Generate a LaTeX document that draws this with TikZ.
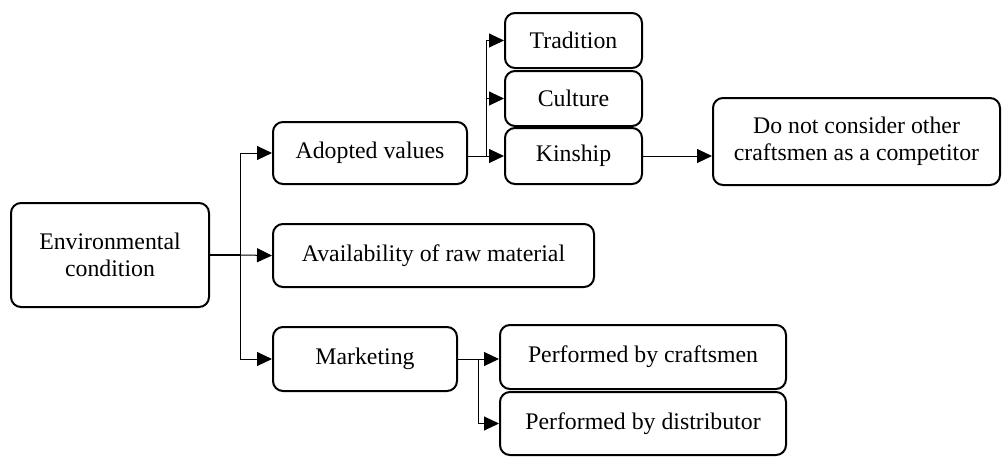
\documentclass[tikz,border=0pt]{standalone}
\usepackage{fontspec}
\setmainfont{Liberation Serif}
\usetikzlibrary{arrows.meta}

\tikzset{
  box/.style={draw,line width=1pt,rounded corners=5pt,align=center,inner sep=2pt},
  link/.style={line width=0.5pt,-{Triangle[length=7.5pt,width=7pt]}},
}

\begin{document}
\begin{tikzpicture}[x=0.5pt,y=-0.5pt,font=\fontsize{11.9}{13.6}\selectfont]
\useasboundingbox (0,0) rectangle (1002,456);
% left side
\node[box,minimum width=99pt,minimum height=52pt](env) at (110,255){Environmental\\condition};
\node[box,minimum width=97pt,minimum height=31pt](adopted) at (370,153){Adopted values};
\node[box,minimum width=160.5pt,minimum height=31.5pt](avail) at (433.5,255.5){Availability of raw material};
\node[box,minimum width=92pt,minimum height=32pt](market) at (365,359){Marketing};
% values
\node[box,minimum width=68.5pt,minimum height=27.5pt](trad) at (573.5,40.5){Tradition};
\node[box,minimum width=68.5pt,minimum height=27.5pt](cult) at (573.5,98.5){Culture};
\node[box,minimum width=68.5pt,minimum height=28pt](kin) at (573.5,156){Kinship};
\node[box,minimum width=143.5pt,minimum height=43.5pt](donot) at (856.5,141.5){Do not consider other\\craftsmen as a competitor};
% marketing
\node[box,minimum width=143pt,minimum height=32pt](craft) at (643,357){Performed by craftsmen};
\node[box,minimum width=143pt,minimum height=31.5pt](distr) at (643,423.5){Performed by distributor};
% connectors
\coordinate (split) at (240,255);
\coordinate (fork) at (486,156);
\coordinate (mfork) at (478,359);
\draw[line width=1pt](env.east)--(split);
\draw[link](split)--(avail.west);
\draw[link](split)|-(adopted.west);
\draw[link](split)|-(market.west);
\draw[link](adopted.east|-kin.west)--(kin.west);
\draw[link](fork)|-(trad.west);
\draw[link](fork)|-(cult.west);
\draw[link](kin.east)--(kin.east-|donot.west);
\draw[link](market.east)--(market.east-|craft.west);
\draw[link](mfork)|-(distr.west);
\end{tikzpicture}
\end{document}
